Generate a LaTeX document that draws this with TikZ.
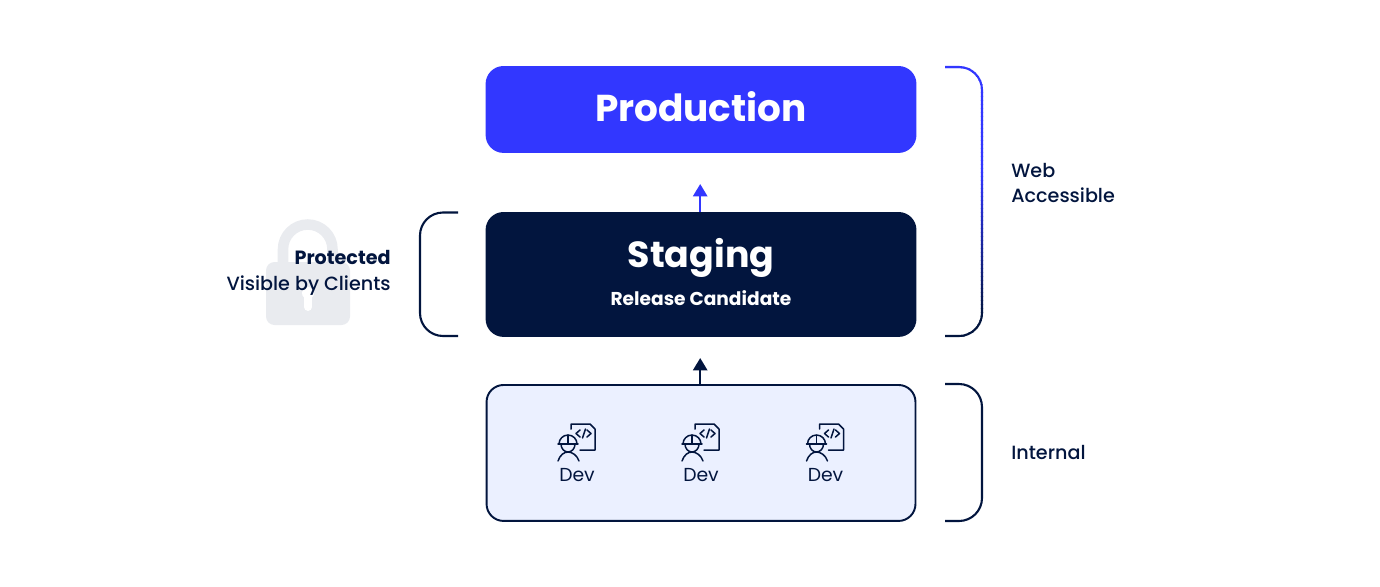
\documentclass[tikz,border=0pt]{standalone}
\usepackage{fontspec}
\setmainfont{Poppins}[UprightFont=* Medium,BoldFont=* Bold]
\newfontfamily\devfont{Poppins}
\usetikzlibrary{arrows.meta}
\definecolor{navy}{HTML}{02153E}
\definecolor{brightblue}{HTML}{3237FF}
\definecolor{palebox}{HTML}{EBF0FF}
\definecolor{lockgrey}{HTML}{E9EBEF}
\tikzset{
  layerbox/.style={draw=#1,fill=#1,rounded corners=0.34cm,minimum width=8.58cm,anchor=north west,inner sep=0pt,line width=1.1pt},
  bracketline/.style={line width=1.2pt,rounded corners=0.46cm,draw=navy},
  sidelabel/.style={text=navy,font=\fontsize{10.9}{14.4}\selectfont,align=left,anchor=west,inner sep=0pt},
  uparrow/.style={-{Triangle[width=8pt,length=7pt]},line width=1.4pt},
  iconline/.style={draw=navy,line width=0.85pt,line cap=round,line join=round},
  devlabel/.style={text=navy,font=\devfont\fontsize{10.7}{12}\selectfont,inner sep=0pt}
}
% one worker with a code sheet, origin at the middle of the Dev word
\newcommand{\devicon}[2]{
  \node[devlabel] (#2) at (#1,475.5) {Dev};
  \begin{scope}[shift={(#1,475)}]
    \draw[iconline] (-6,-46) -- (-6,-51) -- (13,-51) -- (18,-46) -- (18,-25) -- (3,-25);
    \draw[iconline] (3,-45) -- (-1,-41.5) -- (3,-38);
    \draw[iconline] (10,-45) -- (14,-41.5) -- (10,-38);
    \draw[iconline] (8.5,-46) -- (5.5,-37);
    \draw[iconline] (-18,-31) arc (180:360:9);
    \draw[iconline] (-19,-31) -- (1,-31);
    \draw[iconline] (-9,-40) -- (-9,-31);
    \draw[iconline] (-16,-31) arc (180:0:7 and 8);
    \draw[iconline] (-19,-14) .. controls (-17,-20) and (-13,-23) .. (-9,-23) .. controls (-5,-23) and (0,-20) .. (2,-14);
  \end{scope}
}
\begin{document}
\begin{tikzpicture}[x=0.02cm,y=-0.02cm]
\useasboundingbox (0,0) rectangle (1380,586);

% padlock behind the text
\draw[lockgrey,line width=6pt] (283,270) -- (283,249.25) arc (180:360:24.75) -- (332.5,270);
\fill[lockgrey,rounded corners=0.17cm] (266,262) rectangle (350,325);
\fill[white] (308,293) circle (6);
\draw[white,line width=4.5pt,line cap=round] (308,293) -- (308,307);

\node[layerbox=brightblue,minimum height=1.7cm] (production) at (485.6,66) {};
\node[layerbox=navy,minimum height=2.46cm] (staging) at (485.6,212) {};
\node[layerbox=navy,fill=palebox,minimum height=2.72cm] (devbox) at (485.6,384) {};

\node[text=white,font=\fontsize{21.3}{24}\selectfont\bfseries] (prodtitle) at (701,107) {Production};
\node[text=white,font=\fontsize{20.7}{24}\selectfont\bfseries] (stagingtitle) at (701,257.5) {Staging};
\node[text=white,font=\fontsize{10.6}{13}\selectfont\bfseries,inner sep=0pt] (stagingsub) at (701,298) {Release Candidate};

\coordinate (prodtip) at (700.2,184);
\coordinate (stagingtip) at (700.2,358);
\draw[uparrow,brightblue] (staging.north -| prodtip) -- (prodtip);
\draw[uparrow,navy] (devbox.north -| stagingtip) -- (stagingtip);

\devicon{577}{devone}
\devicon{701}{devtwo}
\devicon{825.5}{devthree}

% brackets on both sides, the tall one runs from blue down to navy
\foreach \yy in {60,64,...,340}{
  \pgfmathsetmacro{\mixpct}{max(0,min(100,(315-\yy)/1.45))}
  \begin{scope}
    \clip (935,\yy) rectangle (995,\yy+4);
    \draw[bracketline,draw=brightblue!\mixpct!navy] (945,67) -- (982,67) -- (982,336) -- (945,336);
  \end{scope}
}
\draw[bracketline] (945,384) -- (982,384) -- (982,521) -- (945,521);
\draw[bracketline] (458,212.5) -- (420,212.5) -- (420,336) -- (458,336);

\node[sidelabel] (weblabel) at (1011,183) {Web\\Accessible};
\node[sidelabel] (internallabel) at (1011,452.5) {Internal};
\node[sidelabel,anchor=east,align=right] (protectlabel) at (391,273) {\textbf{Protected}\\Visible by Clients};
\end{tikzpicture}
\end{document}
